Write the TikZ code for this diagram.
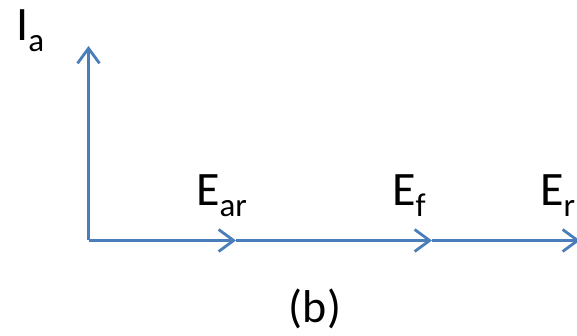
\documentclass[tikz,border=0pt]{standalone}
\usepackage{fontspec}
\setmainfont{Carlito}
\usetikzlibrary{arrows.meta}
\definecolor{axisblue}{HTML}{4A7EBB}
\newcommand{\mysublbl}[2]{#1\raisebox{-11pt}{\fontsize{33}{33}\selectfont #2}}
\begin{document}
\begin{tikzpicture}[x=1pt,y=-1pt,
  axisline/.style={draw=axisblue, line width=2.8pt, -{Straight Barb[length=15pt,width=22pt]}},
  lbl/.style={anchor=base west, inner sep=0pt, font=\fontsize{48}{52}\selectfont}]
\useasboundingbox (0,0) rectangle (577,336);
\clip (0,0) rectangle (577,336);
\coordinate (O) at (88.5,240.5);
\coordinate (T) at (88.5,46);
\coordinate (A1) at (236,240.5);
\coordinate (A2) at (432,240.5);
\coordinate (A3) at (580,240.5);
\draw[axisline] (O) -- (T);
\draw[axisline] (O) -- (A1);
\draw[axisline] (A1) -- (A2);
\draw[axisline] (A2) -- (A3);
\node[lbl] (Ia) at (16,41) {\mysublbl{I}{a}};
\node[lbl] (Ear) at (196,206) {\mysublbl{E}{ar}};
\node[lbl] (Ef) at (392,206) {\mysublbl{E}{f}};
\node[lbl] (Er) at (540,206) {\mysublbl{E}{r}};
\node[anchor=base, inner sep=0pt, font=\fontsize{46}{50}\selectfont] (cap) at (315,322) {(b)};
\end{tikzpicture}
\end{document}
